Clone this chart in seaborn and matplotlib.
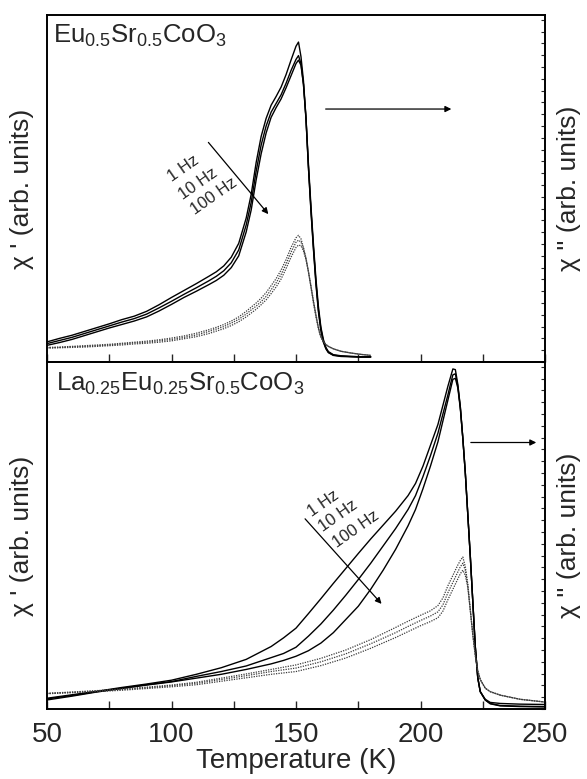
import numpy as np
import pandas as pd
import matplotlib
matplotlib.use("Agg")
import matplotlib.pyplot as plt
from matplotlib.ticker import MultipleLocator, FixedLocator, NullLocator
import seaborn as sns

# ---------------- data (arbitrary units) ----------------
freqs = ["1 Hz", "10 Hz", "100 Hz"]

# Top panel: Eu0.5Sr0.5CoO3
T_top = [50, 55, 60, 65, 70, 75, 80, 85, 90, 95, 100, 105, 110, 115, 118, 121, 124, 127,
         130, 132, 134, 136, 138, 140, 142, 144, 146, 148, 150, 151, 152, 153, 154, 155,
         156, 157, 158, 159, 160, 161, 162, 163, 165, 168, 172, 176, 180]
chi1_top_1 = [5.8, 6.8, 7.7, 8.8, 9.9, 11.0, 12.2, 13.2, 14.6, 16.5, 18.6, 20.6, 22.6, 24.7,
              26.0, 27.7, 30.2, 34.2, 41.5, 48.3, 57.5, 65.0, 70.2, 74.0, 76.5, 79.2, 82.8,
              87.0, 91.0, 92.2, 88.0, 81.0, 70.5, 56.0, 43.5, 32.5, 22.5, 14.5, 9.0, 5.7,
              3.8, 2.7, 1.9, 1.6, 1.5, 1.4, 1.4]
chi1_top_10 = [5.3, 6.2, 7.1, 8.2, 9.3, 10.4, 11.5, 12.5, 13.8, 15.6, 17.5, 19.5, 21.4, 23.4,
               24.7, 26.3, 28.6, 32.3, 39.5, 46.0, 55.0, 62.5, 68.0, 72.0, 74.5, 77.0, 80.3,
               84.0, 87.2, 88.3, 86.0, 80.0, 70.0, 56.0, 44.0, 33.0, 23.0, 15.0, 9.5, 6.0,
               4.0, 2.8, 2.0, 1.7, 1.6, 1.5, 1.5]
chi1_top_100 = [4.8, 5.6, 6.5, 7.6, 8.7, 9.8, 10.8, 11.8, 13.0, 14.7, 16.6, 18.6, 20.4, 22.3,
                23.5, 25.0, 27.2, 30.6, 37.5, 43.8, 52.5, 60.0, 66.0, 70.5, 73.3, 75.8, 79.0,
                82.5, 86.0, 87.0, 85.5, 80.0, 70.5, 57.0, 45.0, 34.0, 24.0, 16.0, 10.0, 6.5,
                4.2, 3.0, 2.1, 1.8, 1.6, 1.5, 1.5]
chi2_top_1 = [4.2, 4.3, 4.5, 4.7, 4.9, 5.1, 5.4, 5.7, 6.0, 6.4, 6.9, 7.5, 8.3, 9.3, 10.0,
              10.8, 11.8, 13.0, 14.6, 15.8, 17.0, 18.4, 20.0, 22.0, 24.0, 26.5, 29.5, 33.0,
              35.8, 36.5, 35.5, 33.0, 30.0, 26.0, 21.5, 17.0, 13.0, 9.5, 7.0, 5.8, 5.0, 4.5,
              3.8, 3.1, 2.6, 2.2, 1.9]
chi2_top_10 = [4.1, 4.2, 4.4, 4.5, 4.7, 4.9, 5.2, 5.5, 5.7, 6.1, 6.5, 7.1, 7.8, 8.8, 9.5,
               10.2, 11.2, 12.3, 13.8, 15.0, 16.1, 17.4, 18.9, 20.8, 22.8, 25.2, 28.2, 31.6,
               34.5, 35.1, 34.6, 32.6, 29.8, 26.0, 21.8, 17.4, 13.4, 9.8, 7.2, 5.9, 5.0, 4.5,
               3.8, 3.1, 2.6, 2.2, 1.9]
chi2_top_100 = [4.0, 4.1, 4.2, 4.3, 4.5, 4.7, 4.9, 5.2, 5.4, 5.7, 6.1, 6.7, 7.3, 8.2, 8.9,
                9.6, 10.5, 11.6, 13.0, 14.1, 15.2, 16.5, 17.9, 19.7, 21.6, 23.9, 26.9, 30.2,
                33.0, 33.7, 33.5, 32.0, 29.5, 26.0, 22.0, 17.8, 13.8, 10.1, 7.4, 6.0, 5.1,
                4.5, 3.8, 3.1, 2.6, 2.2, 1.9]

# Bottom panel: La0.25Eu0.25Sr0.5CoO3
T_bot1 = [50, 60, 70, 80, 90, 100, 110, 120, 130, 140, 145, 150, 155, 160, 165, 170, 175,
          180, 185, 190, 195, 198, 201, 204, 207, 209, 211, 212, 213, 214, 215, 216, 217,
          218, 219, 220, 221, 222, 223, 224, 226, 228, 232, 240, 250]
chi1_bot_1 = [3.1, 4.1, 5.1, 6.2, 7.2, 8.3, 10.0, 11.9, 14.3, 18.0, 20.5, 23.3, 27.5, 31.8,
              36.2, 40.5, 44.8, 49.0, 53.0, 57.0, 61.5, 65.0, 70.0, 76.0, 82.0, 87.5, 93.0,
              95.5, 98.0, 97.8, 93.5, 87.0, 78.0, 68.0, 56.0, 44.0, 31.0, 18.0, 9.0, 5.0,
              2.8, 1.9, 1.6, 1.4, 1.3]
chi1_bot_10 = [2.9, 3.9, 5.0, 6.0, 7.0, 7.9, 9.4, 10.8, 12.4, 14.8, 16.0, 17.8, 21.0, 24.5,
               28.5, 32.8, 37.3, 42.0, 47.0, 52.0, 57.5, 61.5, 67.0, 73.0, 79.5, 85.0, 90.5,
               93.5, 96.3, 96.6, 93.0, 87.0, 78.0, 68.0, 56.0, 44.0, 31.0, 18.0, 9.0, 5.0,
               2.6, 1.6, 1.0, 0.8, 0.7]
chi1_bot_100 = [2.6, 3.7, 4.9, 5.9, 6.9, 7.8, 8.9, 10.0, 11.4, 13.0, 14.0, 15.2, 16.8, 19.0,
                22.0, 25.8, 29.6, 34.5, 40.0, 46.0, 52.8, 57.5, 63.5, 70.0, 77.0, 83.0, 89.0,
                92.0, 95.0, 95.3, 92.5, 86.5, 78.0, 68.0, 56.0, 44.0, 31.0, 18.0, 9.0, 5.0,
                2.6, 1.5, 0.9, 0.7, 0.6]
T_bot2 = [50, 60, 70, 80, 90, 100, 110, 120, 130, 140, 150, 160, 170, 180, 190, 195, 200,
          204, 207, 209, 211, 213, 215, 216, 217, 218, 219, 220, 221, 222, 223, 224, 226,
          228, 232, 240, 250]
chi2_bot_1 = [4.5, 4.9, 5.3, 5.8, 6.3, 6.9, 7.7, 8.9, 10.1, 11.4, 12.7, 14.6, 17.0, 20.0,
              23.5, 25.3, 27.0, 28.3, 29.8, 32.0, 35.5, 38.5, 41.5, 42.8, 43.8, 41.0, 36.0,
              28.5, 21.5, 15.5, 11.0, 8.5, 6.0, 5.0, 4.0, 2.8, 2.0]
chi2_bot_10 = [4.5, 4.8, 5.2, 5.6, 6.1, 6.7, 7.4, 8.5, 9.6, 10.8, 11.8, 13.6, 15.9, 18.8,
               22.0, 23.8, 25.5, 26.8, 28.0, 30.0, 33.5, 36.5, 39.5, 41.0, 42.0, 40.0, 35.5,
               28.5, 21.5, 15.5, 11.0, 8.5, 6.0, 5.0, 4.0, 2.8, 2.0]
chi2_bot_100 = [4.4, 4.7, 5.0, 5.4, 5.9, 6.4, 7.0, 8.0, 9.0, 10.0, 10.8, 12.5, 14.7, 17.5,
                20.6, 22.3, 24.0, 25.2, 26.3, 28.2, 31.5, 34.5, 37.5, 39.0, 40.0, 38.5, 35.0,
                28.5, 21.5, 15.5, 11.0, 8.5, 6.0, 5.0, 4.0, 2.8, 2.0]

x_ticks = [50, 100, 150, 200, 250]
titles = [r"$\mathregular{Eu_{0.5}Sr_{0.5}CoO_3}$",
          r"$\mathregular{La_{0.25}Eu_{0.25}Sr_{0.5}CoO_3}$"]
ylabel_left = "χ ' (arb. units)"
ylabel_right = "χ '' (arb. units)"
xlabel = "Temperature (K)"

# ---------------- style ----------------
sns.set_theme(style="white")
plt.rcParams["font.family"] = ["Liberation Sans", "DejaVu Sans"]
plt.rcParams["axes.linewidth"] = 1.2
plt.rcParams["axes.edgecolor"] = "black"

fig = plt.figure(figsize=(5.87, 7.79), dpi=100)
left, right = 47 / 587, 545 / 587
top, bottom = 1 - 15 / 779, 1 - 709 / 779
gs = fig.add_gridspec(2, 1, left=left, right=right, top=top, bottom=bottom, hspace=0)
ax_top = fig.add_subplot(gs[0])
ax_bot = fig.add_subplot(gs[1], sharex=ax_top)


def build(ax, T1, c1s, T2, c2s, title, hz_pos, arrow, harrow, title_pos):
    twin = ax.twinx()
    for vals in c1s:
        df = pd.DataFrame({"T": T1, "v": vals})
        sns.lineplot(data=df, x="T", y="v", ax=ax, color="black", lw=1.0,
                     estimator=None, sort=False, legend=False)
    for vals in c2s:
        df = pd.DataFrame({"T": T2, "v": vals})
        sns.lineplot(data=df, x="T", y="v", ax=twin, color="#3a3a3a", lw=0.9,
                     linestyle=(0, (1, 1)), estimator=None, sort=False, legend=False)
    ax.set_xlim(50, 250)
    ax.set_ylim(0, 100)
    twin.set_ylim(0, 100)
    ax.set_ylabel(ylabel_left, fontsize=19)
    ax.yaxis.set_label_coords(-0.026, 0.5)
    twin.set_ylabel(ylabel_right, fontsize=19, rotation=90)
    twin.yaxis.set_label_coords(1.024, 0.5)
    ax.yaxis.set_major_locator(NullLocator())
    twin.yaxis.set_major_locator(FixedLocator(np.arange(0, 100, 3.4)))
    twin.tick_params(axis="y", direction="in", length=3, width=0.8, labelright=False)
    ax.xaxis.set_major_locator(MultipleLocator(50))
    ax.xaxis.set_minor_locator(MultipleLocator(25))
    ax.tick_params(axis="x", which="both", direction="in", length=6, width=1.0,
                   top=False, bottom=True, labelsize=20, pad=9)
    ax.tick_params(axis="y", left=False)
    ax.text(title_pos[0], title_pos[1], title, transform=ax.transAxes, fontsize=18.5,
            ha="left", va="baseline")
    for (tx, ty), lab in zip(hz_pos, freqs):
        ax.text(tx, ty, lab, fontsize=12, rotation=35, rotation_mode="anchor",
                ha="left", va="baseline")
    ax.annotate("", xy=arrow[1], xytext=arrow[0],
                arrowprops=dict(arrowstyle="-|>", lw=0.9, color="black", mutation_scale=9))
    ax.annotate("", xy=harrow[1], xytext=harrow[0],
                arrowprops=dict(arrowstyle="-|>", lw=0.9, color="black", mutation_scale=9))
    for s in ax.spines.values():
        s.set_color("black")
        s.set_linewidth(1.2)
    return twin


build(ax_top, T_top, [chi1_top_1, chi1_top_10, chi1_top_100],
      T_top, [chi2_top_1, chi2_top_10, chi2_top_100], titles[0],
      [(100.1, 51.9), (104.7, 46.6), (109.4, 42.3)],
      [(114.1, 63.9), (139.6, 42.0)], [(160.8, 72.9), (213.5, 72.9)], (0.012, 0.92))
build(ax_bot, T_bot1, [chi1_bot_1, chi1_bot_10, chi1_bot_100],
      T_bot2, [chi2_bot_1, chi2_bot_10, chi2_bot_100], titles[1],
      [(156.3, 55.4), (161.0, 51.1), (166.3, 46.3)],
      [(152.9, 55.4), (185.1, 29.7)], [(219.1, 76.8), (247.6, 76.8)], (0.018, 0.918))

plt.setp(ax_top.get_xticklabels(), visible=False)
ax_top.set_xlabel("")
ax_bot.set_xticks(x_ticks)
ax_bot.set_xlabel(xlabel, fontsize=20, labelpad=0)

fig.savefig("out.png", dpi=100)
